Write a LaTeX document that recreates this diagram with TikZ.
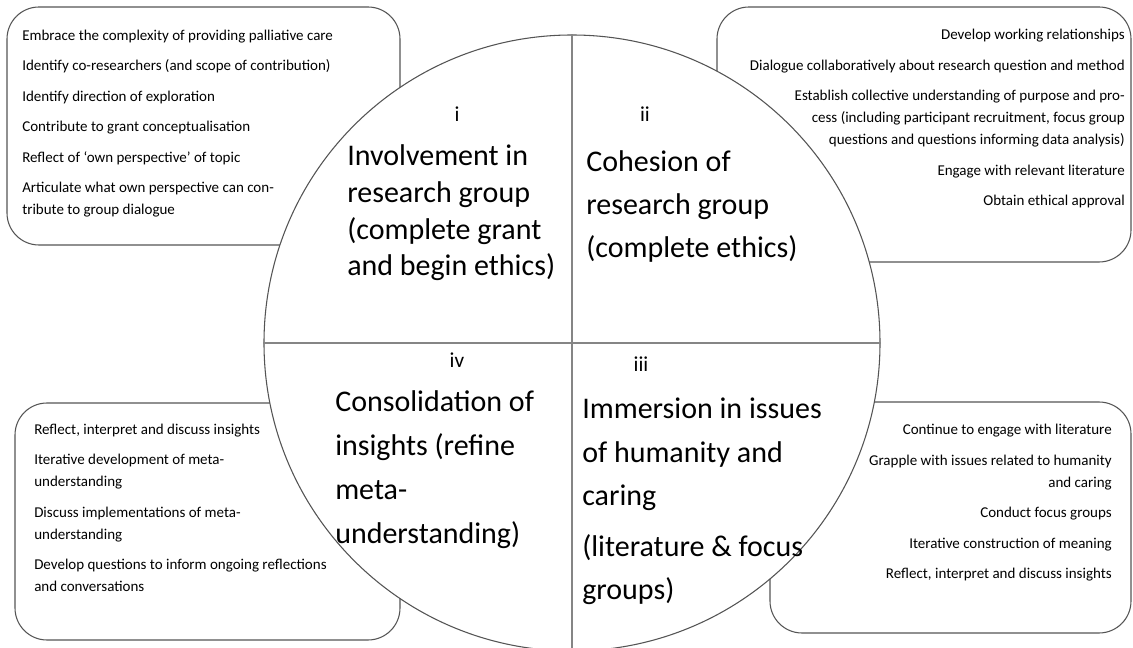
\documentclass[tikz,border=0pt]{standalone}
\usepackage{fontspec}
\setmainfont{Carlito}
\usetikzlibrary{positioning}
\definecolor{edgegray}{rgb}{0.33,0.33,0.33}
\definecolor{splitgray}{rgb}{0.52,0.52,0.52}

\begin{document}
\begin{tikzpicture}[x=0.75pt,y=-0.75pt,
    taskbox/.style={draw=edgegray, line width=0.8pt, rounded corners=24pt},
    tasks/.style={inner sep=0pt, font=\fontsize{11.25}{16.5}\selectfont},
    stage/.style={inner sep=0pt, align=left, font=\fontsize{22.5}{27.5}\selectfont},
    numeral/.style={inner sep=0pt, font=\fontsize{16}{19}\selectfont}]
  \useasboundingbox (0,0) rectangle (1133,648);
  % Task boxes behind the wheel
  \draw[taskbox] (7,7) rectangle (400,245);
  \draw[taskbox] (717,7) rectangle (1131,262);
  \draw[taskbox] (15,403) rectangle (400,640);
  \draw[taskbox] (770,402) rectangle (1131,633);
  % The wheel and its quarters
  \node[circle, draw=edgegray, line width=0.8pt, fill=white, minimum size=462pt, inner sep=0pt] (wheel) at (572,343) {};
  \draw[splitgray, line width=1.1pt] (wheel.north) -- (wheel.south);
  \draw[splitgray, line width=1.1pt] (wheel.west) -- (wheel.east);
  % Numerals
  \node[numeral, anchor=base] (numI) at (457,122) {i};
  \node[numeral, anchor=base] (numII) at (645,122) {ii};
  \node[numeral, anchor=base] (numIII) at (641,372) {iii};
  \node[numeral, anchor=base] (numIV) at (457,368) {iv};
  % Stages (base = last line)
  \node[stage, anchor=base west] (stageI) at (347,276) {Involvement in\\research group\\(complete grant\\and begin ethics)};
  \node[stage, anchor=base west, font=\fontsize{22.5}{32.6}\selectfont] (stageII) at (586,258) {Cohesion of\\research group\\(complete ethics)};
  \node[stage, anchor=base west, font=\fontsize{22.5}{32.6}\selectfont] (stageIII) at (582,600) {Immersion in issues\\of humanity and\\caring\\[5.6pt](literature \& focus\\groups)};
  \node[stage, anchor=base west, font=\fontsize{22.5}{33}\selectfont] (stageIV) at (335,544) {Consolidation of\\insights (refine\\meta-\\understanding)};
  % Tasks of each stage (base = last line)
  \node[tasks, align=left, anchor=base west] (tasksI) at (22,215) {Embrace the complexity of providing palliative care\\[6.4pt]
    Identify co-researchers (and scope of contribution)\\[6.4pt]
    Identify direction of exploration\\[6.4pt]
    Contribute to grant conceptualisation\\[6.4pt]
    Reflect of ‘own perspective’ of topic\\[6.4pt]
    Articulate what own perspective can con-\\tribute to group dialogue};
  \node[tasks, align=right, anchor=base east] (tasksII) at (1125,206) {Develop working relationships\\[6.4pt]
    Dialogue collaboratively about research question and method\\[6.4pt]
    Establish collective understanding of purpose and pro-\\cess (including participant recruitment, focus group\\questions and questions informing data analysis)\\[6.4pt]
    Engage with relevant literature\\[6.4pt]
    Obtain ethical approval};
  \node[tasks, align=right, anchor=base east] (tasksIII) at (1112,579) {Continue to engage with literature\\[6.4pt]
    Grapple with issues related to humanity\\and caring\\[6.4pt]
    Conduct focus groups\\[6.4pt]
    Iterative construction of meaning\\[6.4pt]
    Reflect, interpret and discuss insights};
  \node[tasks, align=left, anchor=base west] (tasksIV) at (34,592) {Reflect, interpret and discuss insights\\[6.4pt]
    Iterative development of meta-\\understanding\\[6.4pt]
    Discuss implementations of meta-\\understanding\\[6.4pt]
    Develop questions to inform ongoing reflections\\and conversations};
\end{tikzpicture}
\end{document}
